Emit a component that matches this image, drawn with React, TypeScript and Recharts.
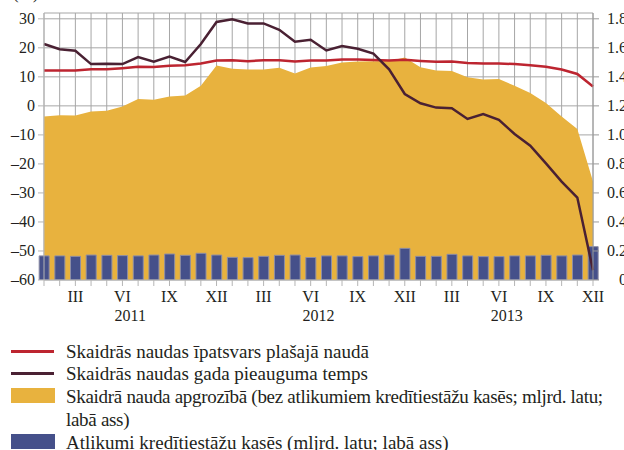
import React from 'react';
import { ComposedChart, Area, Bar, Line, XAxis, YAxis, CartesianGrid } from 'recharts';

// months Jan 2011 .. Dec 2013
const years = ['2011', '2012', '2013'];
const romanMonths = ['', '', 'III', '', '', 'VI', '', '', 'IX', '', '', 'XII'];

// Skaidrās naudas īpatsvars plašajā naudā (%)
const cashShare = [
  12.2, 12.2, 12.2, 12.6, 12.6, 13.0, 13.5, 13.4, 13.8, 14.0, 14.6, 15.6,
  15.7, 15.4, 15.7, 15.7, 15.3, 15.6, 15.6, 16.0, 16.0, 15.8, 15.6, 15.9,
  15.5, 15.2, 15.3, 14.8, 14.6, 14.6, 14.4, 14.0, 13.5, 12.5, 11.0, 6.7,
];

// Skaidrās naudas gada pieauguma temps (%)
const cashGrowth = [
  21.3, 19.5, 19.0, 14.4, 14.5, 14.4, 16.8, 15.2, 17.0, 15.1, 21.3, 28.9,
  29.8, 28.4, 28.4, 26.2, 22.1, 22.8, 19.1, 20.6, 19.7, 18.0, 12.6, 4.1,
  0.9, -0.6, -0.8, -4.5, -2.8, -4.8, -9.7, -13.7, -19.8, -26.1, -31.6, -56.6,
];

// Skaidrā nauda apgrozībā (mljrd. latu; labā ass)
const cashInCirculation = [
  1.126, 1.136, 1.133, 1.161, 1.166, 1.195, 1.248, 1.243, 1.264, 1.271, 1.338, 1.478,
  1.455, 1.45, 1.45, 1.462, 1.423, 1.464, 1.475, 1.499, 1.506, 1.508, 1.51, 1.533,
  1.467, 1.443, 1.441, 1.398, 1.381, 1.386, 1.338, 1.288, 1.219, 1.126, 1.041, 0.678,
];

// Atlikumi kredītiestāžu kasēs (mljrd. latu; labā ass)
const vaultCash = [
  0.166, 0.166, 0.163, 0.172, 0.17, 0.168, 0.166, 0.172, 0.179, 0.17, 0.184, 0.172,
  0.156, 0.154, 0.163, 0.17, 0.172, 0.155, 0.166, 0.166, 0.161, 0.166, 0.172, 0.218,
  0.163, 0.163, 0.177, 0.166, 0.161, 0.161, 0.166, 0.166, 0.17, 0.166, 0.172, 0.23,
];

const leftTicks = [-60, -50, -40, -30, -20, -10, 0, 10, 20, 30];
const rightTicks = [0, 0.2, 0.4, 0.6, 0.8, 1.0, 1.2, 1.4, 1.6, 1.8];

const data = cashShare.map((v, i) => ({
  i,
  share: v,
  growth: cashGrowth[i],
  cash: cashInCirculation[i],
  vault: vaultCash[i],
}));
const monthTicks = data.map((d) => d.i);

const FONT = '"Liberation Serif", "Times New Roman", serif';
const TEXT = '#231f20';
const RED = '#bd2530';
const DARK = '#4a2133';
const YELLOW = '#e8b23e';
const BLUE = '#45508a';
const GRID = '#a6a6a6';

const legendItems = [
  { kind: 'line', color: RED, label: 'Skaidrās naudas īpatsvars plašajā naudā' },
  { kind: 'line', color: DARK, label: 'Skaidrās naudas gada pieauguma temps' },
  { kind: 'box', color: YELLOW, label: 'Skaidrā nauda apgrozībā (bez atlikumiem kredītiestāžu kasēs; mljrd. latu;\nlabā ass)' },
  { kind: 'box', color: BLUE, label: 'Atlikumi kredītiestāžu kasēs (mljrd. latu; labā ass)' },
];

const MonthTick = (props: any) => {
  const { x, y, payload } = props;
  const i = payload.value as number;
  const roman = romanMonths[i % 12];
  const showYear = i % 12 === 5;
  return (
    <g>
      {roman && (
        <text x={x} y={y + 14} textAnchor="middle" fontSize={16} fill={TEXT} fontFamily={FONT}>
          {roman}
        </text>
      )}
      {showYear && (
        <text x={x + 7.84} y={y + 33} textAnchor="middle" fontSize={16} fill={TEXT} fontFamily={FONT}>
          {years[Math.floor(i / 12)]}
        </text>
      )}
    </g>
  );
};

const LeftTick = (props: any) => {
  const { x, y, payload } = props;
  const v = payload.value as number;
  return (
    <text x={x} y={y + 5} textAnchor="end" fontSize={16} fill={TEXT} fontFamily={FONT}>
      {v < 0 ? '\u2013' + Math.abs(v) : String(v)}
    </text>
  );
};

const RightTick = (props: any) => {
  const { x, y, payload } = props;
  const v = payload.value as number;
  return (
    <text x={x + 26} y={y + 5} textAnchor="end" fontSize={16} fill={TEXT} fontFamily={FONT}>
      {v === 0 ? '0' : v.toFixed(1)}
    </text>
  );
};

const legendTops = [340, 362, 385, 431];

export default function App() {
  return (
    <div style={{ position: 'absolute', left: 0, top: 0, width: 624, height: 450, background: '#fff', fontFamily: FONT, overflow: 'hidden' }}>
      <div style={{ position: 'absolute', left: 13, top: -14, fontSize: 17, lineHeight: '16px', color: TEXT }}>(%)</div>
      <ComposedChart width={624} height={330} data={data} margin={{ top: 13, right: 0, bottom: 0, left: 0 }}>
        <CartesianGrid stroke={GRID} strokeWidth={1} />
        <XAxis
          type="number"
          dataKey="i"
          domain={[0, 35]}
          ticks={monthTicks}
          interval={0}
          height={50}
          tickSize={6}
          tickMargin={2}
          stroke="#b5b5b5"
          tick={<MonthTick />}
        />
        <YAxis
          domain={[-60, 32]}
          ticks={leftTicks}
          allowDataOverflow
          width={44}
          tickSize={6}
          tickMargin={3}
          stroke="#b5b5b5"
          tick={<LeftTick />}
        />
        <YAxis
          yAxisId="right"
          orientation="right"
          domain={[0, 1.84]}
          ticks={rightTicks}
          allowDataOverflow
          width={31}
          tickSize={6}
          tickMargin={2}
          stroke="#9a9a9a"
          tick={<RightTick />}
        />
        <Area
          yAxisId="right"
          type="linear"
          dataKey="cash"
          stroke="none"
          fill={YELLOW}
          fillOpacity={1}
          isAnimationActive={false}
        />
        <Bar yAxisId="right" dataKey="vault" barSize={10} fill={BLUE} stroke="#8d8ea6" strokeWidth={1} isAnimationActive={false} />
        <Line type="linear" dataKey="share" stroke={RED} strokeWidth={2.5} dot={false} isAnimationActive={false} />
        <Line type="linear" dataKey="growth" stroke={DARK} strokeWidth={2.5} dot={false} isAnimationActive={false} />
      </ComposedChart>
      {legendItems.map((item, k) => (
        <div key={k} style={{ position: 'absolute', left: 0, top: legendTops[k], width: 624 }}>
          {item.kind === 'line' ? (
            <div style={{ position: 'absolute', left: 11, top: 10, width: 43, height: 3, background: item.color }} />
          ) : (
            <div style={{ position: 'absolute', left: 11, top: 3, width: 44, height: 15, background: item.color }} />
          )}
          <div
            style={{
              position: 'absolute',
              left: 66,
              top: 0,
              width: 558,
              fontSize: 19,
              lineHeight: '23px',
              color: TEXT,
              whiteSpace: 'pre-line',
              letterSpacing: k === 2 ? '-0.3px' : 0,
            }}
          >
            {item.label}
          </div>
        </div>
      ))}
    </div>
  );
}
